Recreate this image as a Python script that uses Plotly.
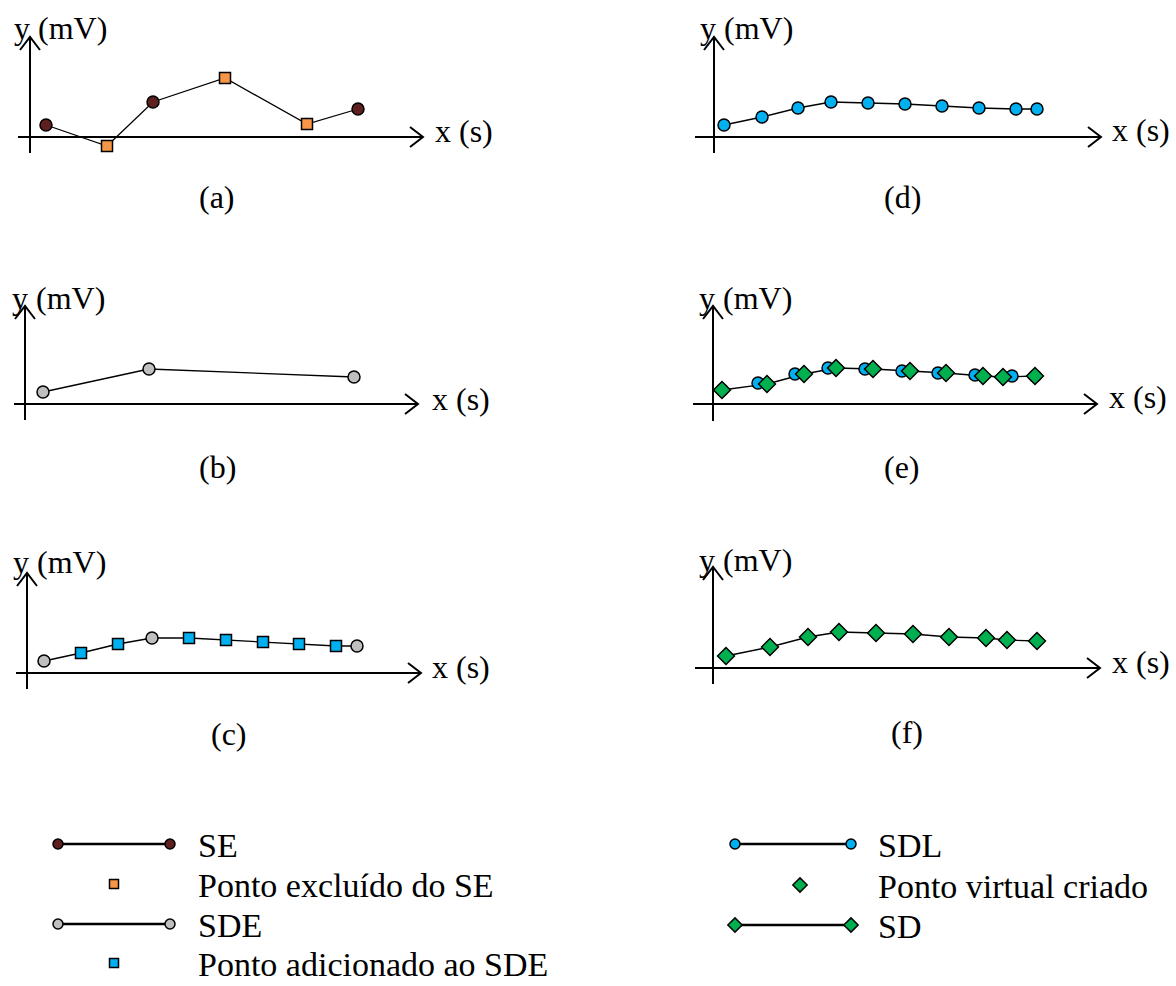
import plotly.graph_objects as go

W, H = 1176, 986
S = 10.0  # pixels per data unit (both axes)

# ---------------- data (x in s, y in mV, schematic units) ----------------
# (a) original signal SE and excluded points
a_se_x = [1.6, 12.3, 32.8]
a_se_y = [1.2, 3.5, 2.8]
a_exc_x = [7.7, 19.5, 27.7]
a_exc_y = [-0.9, 5.9, 1.3]
# (b) SDE
b_sde_x = [1.8, 12.4, 32.9]
b_sde_y = [1.2, 3.5, 2.7]
# (c) SDE + added points
c_sde_x = [1.7, 12.5, 33.0]
c_sde_y = [1.2, 3.5, 2.7]
c_add_x = [5.4, 9.1, 16.2, 19.9, 23.6, 27.2, 30.9]
c_add_y = [2.0, 2.9, 3.5, 3.3, 3.1, 2.9, 2.7]
# (d) SDL
d_sdl_x = [1.0, 4.8, 8.4, 11.7, 15.4, 19.1, 22.8, 26.5, 30.2, 32.3]
d_sdl_y = [1.2, 2.0, 2.9, 3.5, 3.4, 3.3, 3.1, 2.9, 2.8, 2.8]
# (e) SDL + virtual points
e_sdl_x = [0.9, 4.5, 8.2, 11.5, 15.2, 18.9, 22.5, 26.2, 29.9, 32.2]
e_sdl_y = [1.4, 2.1, 3.0, 3.6, 3.5, 3.3, 3.1, 2.9, 2.8, 2.8]
e_sd_x = [0.9, 5.4, 9.1, 12.3, 16.0, 19.7, 23.3, 27.0, 29.0, 32.2]
e_sd_y = [1.4, 2.0, 3.0, 3.6, 3.5, 3.3, 3.1, 2.8, 2.7, 2.8]
# (f) SD
f_sd_x = [1.3, 5.7, 9.5, 12.6, 16.3, 20.0, 23.6, 27.3, 29.4, 32.4]
f_sd_y = [1.2, 2.1, 3.1, 3.6, 3.5, 3.4, 3.1, 3.0, 2.8, 2.7]

panel_labels = ["(a)", "(b)", "(c)", "(d)", "(e)", "(f)"]
y_title = "y (mV)"
x_title = "x (s)"
legend_left = ["SE", "Ponto excluído do SE", "SDE", "Ponto adicionado ao SDE"]
legend_right = ["SDL", "Ponto virtual criado", "SD"]

# ---------------- styles ----------------
C_SE = "#5E1F1F"
C_EXC = "#F79646"
C_SDE = "#BFBFBF"
C_BLUE = "#00B0F0"
C_GREEN = "#00B050"
FONT = "Liberation Serif, Times New Roman, serif"
FS = 32
FS_LEG = 34

# ---------------- panel geometry (pixels) ----------------
panels = [
    dict(origin=(30, 137), box=(0, 0, 560, 240), yax=(153, 37), xax=(18, 423),
         ylab=(12, 28), xlab=(433, 131), cap=(217, 197)),
    dict(origin=(25, 404), box=(0, 245, 560, 505), yax=(420, 306), xax=(14, 418),
         ylab=(10, 298), xlab=(430, 399), cap=(217, 467)),
    dict(origin=(27, 673), box=(0, 510, 560, 780), yax=(689, 573), xax=(16, 421),
         ylab=(11, 562), xlab=(430, 667), cap=(229, 734)),
    dict(origin=(714, 137), box=(620, 0, 1176, 240), yax=(153, 37), xax=(695, 1101),
         ylab=(698, 28), xlab=(1110, 130), cap=(902, 197)),
    dict(origin=(713, 404), box=(620, 245, 1176, 505), yax=(421, 306), xax=(693, 1097),
         ylab=(697, 298), xlab=(1107, 397), cap=(902, 467)),
    dict(origin=(713, 668), box=(620, 510, 1176, 780), yax=(684, 567), xax=(695, 1100),
         ylab=(697, 560), xlab=(1110, 662), cap=(907, 732)),
]

fig = go.Figure()
shapes = []
annotations = []


def axname(n):
    return ("x" if n == 1 else f"x{n}"), ("y" if n == 1 else f"y{n}")


def circle(color, size=12):
    return dict(symbol="circle", size=size, color=color, line=dict(color="black", width=1.5))


def square(color, size=11):
    return dict(symbol="square", size=size, color=color, line=dict(color="black", width=1.5))


def diamond(color, size=13):
    return dict(symbol="diamond", size=size, color=color, line=dict(color="black", width=1.5))


LINE = dict(color="black", width=1.3)


def add_line(n, xs, ys):
    xr, yr = axname(n)
    pts = sorted(zip(xs, ys))
    fig.add_trace(go.Scatter(x=[p[0] for p in pts], y=[p[1] for p in pts], mode="lines",
                             line=LINE, xaxis=xr, yaxis=yr, showlegend=False,
                             hoverinfo="skip", cliponaxis=False))


def add_markers(n, xs, ys, marker):
    xr, yr = axname(n)
    fig.add_trace(go.Scatter(x=xs, y=ys, mode="markers", marker=marker, xaxis=xr, yaxis=yr,
                             showlegend=False, cliponaxis=False))


# (a)
add_line(1, a_se_x + a_exc_x, a_se_y + a_exc_y)
add_markers(1, a_se_x, a_se_y, circle(C_SE))
add_markers(1, a_exc_x, a_exc_y, square(C_EXC))
# (b)
add_line(2, b_sde_x, b_sde_y)
add_markers(2, b_sde_x, b_sde_y, circle(C_SDE))
# (c)
add_line(3, c_sde_x + c_add_x, c_sde_y + c_add_y)
add_markers(3, c_sde_x, c_sde_y, circle(C_SDE))
add_markers(3, c_add_x, c_add_y, square(C_BLUE))
# (d)
add_line(4, d_sdl_x, d_sdl_y)
add_markers(4, d_sdl_x, d_sdl_y, circle(C_BLUE))
# (e)
add_line(5, e_sd_x, e_sd_y)
add_markers(5, e_sdl_x, e_sdl_y, circle(C_BLUE))
add_markers(5, e_sd_x, e_sd_y, diamond(C_GREEN))
# (f)
add_line(6, f_sd_x, f_sd_y)
add_markers(6, f_sd_x, f_sd_y, diamond(C_GREEN))

layout_axes = {}
for i, p in enumerate(panels):
    n = i + 1
    ox, oy = p["origin"]
    bx0, by0, bx1, by1 = p["box"]
    xr, yr = axname(n)
    xkey = "xaxis" if n == 1 else f"xaxis{n}"
    ykey = "yaxis" if n == 1 else f"yaxis{n}"
    layout_axes[xkey] = dict(domain=[bx0 / W, bx1 / W], range=[(bx0 - ox) / S, (bx1 - ox) / S],
                             visible=False, fixedrange=True, anchor=yr)
    layout_axes[ykey] = dict(domain=[1 - by1 / H, 1 - by0 / H], range=[(oy - by1) / S, (oy - by0) / S],
                             visible=False, fixedrange=True, anchor=xr)
    # axis lines
    yb, yt = p["yax"]
    xl, xt = p["xax"]
    ax_line = dict(color="black", width=2)
    shapes.append(dict(type="line", xref=xr, yref=yr, x0=(xl - ox) / S, x1=(xt - ox) / S,
                       y0=0, y1=0, line=ax_line))
    shapes.append(dict(type="line", xref=xr, yref=yr, x0=0, x1=0,
                       y0=(oy - yb) / S, y1=(oy - yt) / S, line=ax_line))
    # arrow heads (open chevrons)
    shapes.append(dict(type="path", xref=xr, yref=yr, xsizemode="pixel", ysizemode="pixel",
                       xanchor=(xt - ox) / S, yanchor=0, path="M-13,10 L0,0 L-13,-10",
                       line=ax_line))
    shapes.append(dict(type="path", xref=xr, yref=yr, xsizemode="pixel", ysizemode="pixel",
                       xanchor=0, yanchor=(oy - yt) / S, path="M-10,-13 L0,0 L10,-13",
                       line=ax_line))
    # texts
    tx, ty = p["ylab"]
    annotations.append(dict(text=y_title, x=tx / W, y=1 - ty / H, xref="paper", yref="paper",
                            xanchor="left", yanchor="middle", showarrow=False))
    tx, ty = p["xlab"]
    annotations.append(dict(text=x_title, x=tx / W, y=1 - ty / H, xref="paper", yref="paper",
                            xanchor="left", yanchor="middle", showarrow=False))
    tx, ty = p["cap"]
    annotations.append(dict(text=panel_labels[i], x=tx / W, y=1 - ty / H, xref="paper",
                            yref="paper", xanchor="center", yanchor="middle", showarrow=False))

# ---------------- legend (drawn manually) ----------------
layout_axes["xaxis7"] = dict(domain=[0, 1], range=[0, W], visible=False, fixedrange=True, anchor="y7")
layout_axes["yaxis7"] = dict(domain=[0, 1], range=[H, 0], visible=False, fixedrange=True, anchor="x7")

leg_line = dict(color="black", width=2.6)
legend_items = [
    # (kind, marker, row_y, line_x0, line_x1, point_x, text_x, label)
    ("line", circle(C_SE, 10), 844, 58, 170, None, 197, legend_left[0]),
    ("point", square(C_EXC, 9), 884, None, None, 114, 197, legend_left[1]),
    ("line", circle(C_SDE, 10), 924, 58, 170, None, 197, legend_left[2]),
    ("point", square(C_BLUE, 9), 963, None, None, 114, 197, legend_left[3]),
    ("line", circle(C_BLUE, 10), 844, 735, 851, None, 877, legend_right[0]),
    ("point", diamond(C_GREEN, 11), 885, None, None, 800, 877, legend_right[1]),
    ("line", diamond(C_GREEN, 11), 925, 735, 851, None, 877, legend_right[2]),
]
for kind, mk, ry, lx0, lx1, px, tx, lab in legend_items:
    if kind == "line":
        fig.add_trace(go.Scatter(x=[lx0, lx1], y=[ry, ry], mode="lines+markers", line=leg_line,
                                 marker=mk, xaxis="x7", yaxis="y7", showlegend=False,
                                 hoverinfo="skip", cliponaxis=False))
    else:
        fig.add_trace(go.Scatter(x=[px], y=[ry], mode="markers", marker=mk, xaxis="x7",
                                 yaxis="y7", showlegend=False, hoverinfo="skip", cliponaxis=False))
    annotations.append(dict(text=lab, x=tx, y=ry + 1, xref="x7", yref="y7", xanchor="left",
                            yanchor="middle", showarrow=False, borderpad=0,
                            font=dict(size=FS_LEG)))

fig.update_layout(
    width=W, height=H,
    margin=dict(l=0, r=0, t=0, b=0, pad=0),
    paper_bgcolor="white", plot_bgcolor="rgba(0,0,0,0)",
    font=dict(family=FONT, size=FS, color="black"),
    showlegend=False,
    shapes=shapes,
    annotations=annotations,
    **layout_axes,
)

fig.write_html("out.html", config={"displayModeBar": False})
